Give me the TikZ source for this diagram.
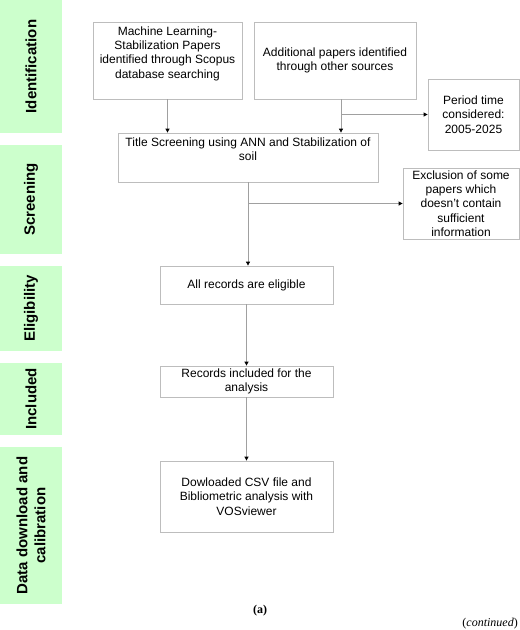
\documentclass[tikz,border=0pt]{standalone}
\usepackage{fontspec}
\setmainfont{Liberation Sans}
\newfontfamily\capfont{Liberation Serif}
\usetikzlibrary{arrows.meta}

\definecolor{bandgreen}{HTML}{CCFFCC}
\definecolor{boxgray}{HTML}{BDBDBD}
\definecolor{linegray}{HTML}{A0A0A0}

\newcommand{\toptext}[3]{\parbox[c][#2][t]{#1}{\centering\vspace{4.5pt}#3}}

\begin{document}
\begin{tikzpicture}[x=1pt,y=-1pt,
                    font=\fontsize{12}{14.3}\selectfont,
                    box/.style={draw=boxgray, line width=0.8pt, align=center, inner sep=0pt},
                    band/.style={fill=bandgreen, draw=none},
                    phase/.style={rotate=90, align=center,
                                  font=\fontsize{15}{18}\bfseries\selectfont},
                    conn/.style={draw=linegray, line width=0.8pt,
                                 -{Triangle[length=4pt,width=4pt,black]}}]
  \useasboundingbox (0,0) rectangle (520,630);

  \fill[band] (0,0)   rectangle (62,133);
  \fill[band] (0,145) rectangle (62,254);
  \fill[band] (0,266) rectangle (62,351);
  \fill[band] (0,363) rectangle (62,435);
  \fill[band] (0,447) rectangle (62,604);

  \node[phase] (pident)  at (31,66.5)  {Identification};
  \node[phase] (pscreen) at (31,199.5) {Screening};
  \node[phase] (pelig)   at (31,308.5) {Eligibility};
  \node[phase] (pincl)   at (31,399)   {Included};
  \node[phase] (pdata)   at (31,525.5) {Data download and\\calibration};

  \node[box, minimum width=149pt, minimum height=77pt] (ml) at (167.5,60.5)
       {\toptext{149pt}{77pt}{Machine Learning-\\Stabilization Papers\\identified through Scopus\\database searching}};
  \node[box, minimum width=162pt, minimum height=77pt] (add) at (335,60.5)
       {Additional papers identified\\through other sources};
  \node[box, minimum width=91pt, minimum height=71pt] (period) at (473.5,114.5)
       {Period time\\considered:\\2005-2025};
  \node[box, minimum width=260pt, minimum height=49pt] (title) at (248,157.5)
       {\toptext{260pt}{49pt}{Title Screening using ANN and Stabilization of\\soil}};
  \node[box, minimum width=116pt, minimum height=71pt] (excl) at (461,203.5)
       {Exclusion of some\\papers which\\doesn't contain\\sufficient\\information};
  \node[box, minimum width=173pt, minimum height=38pt] (elig) at (246.5,285)
       {All records are eligible};
  \node[box, minimum width=173pt, minimum height=31pt] (rec) at (246.5,381.5)
       {Records included for the\\analysis};
  \node[box, minimum width=173pt, minimum height=71pt] (dl) at (246.5,496.5)
       {Dowloaded CSV file and\\Bibliometric analysis with\\VOSviewer};

  \coordinate (addout) at ([xshift=6pt]add.south);
  \coordinate (j1) at (addout |- period.west);
  \coordinate (j2) at (title.south |- excl.west);

  \draw[conn] (ml.south) -- (ml.south |- title.north);
  \draw[conn] (addout) -- (addout |- title.north);
  \draw[conn] (j1) -- (period.west);
  \draw[conn] (title.south) -- (title.south |- elig.north);
  \draw[conn] (j2) -- (excl.west);
  \draw[conn] (elig.south) -- (rec.north);
  \draw[conn] (rec.south) -- (dl.north);

  \node[font=\capfont\bfseries\fontsize{12}{14}\selectfont] (cap) at (260,611) {(a)};
  \node[anchor=east, inner sep=1pt, font=\capfont\fontsize{12}{14}\selectfont] (cont) at (519,624)
       {(\textit{continued})};
\end{tikzpicture}
\end{document}
